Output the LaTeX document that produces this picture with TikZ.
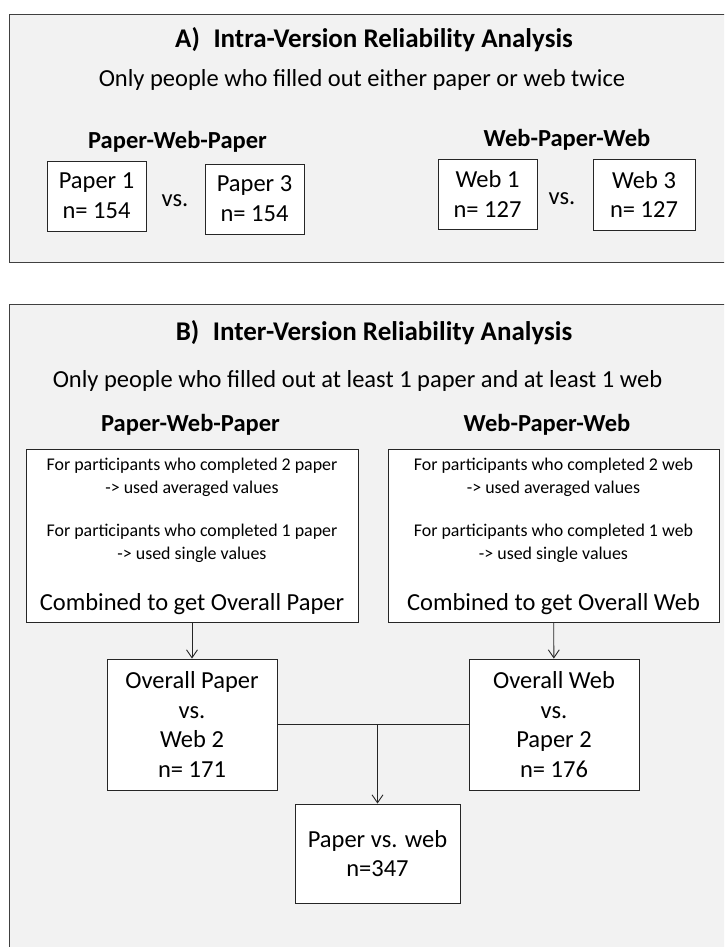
\documentclass[tikz,border=0pt]{standalone}
\usepackage{fontspec}
\setmainfont{Carlito}
\usetikzlibrary{arrows.meta, positioning}

\tikzset{
  panel/.style={draw=black!75, fill=black!5, line width=0.9pt},
  box/.style={draw=black!85, fill=white, line width=0.9pt, inner sep=0pt, align=center,
    font=\fontsize{24.5}{29.8}\selectfont},
  title/.style={inner sep=0pt, font=\fontsize{27}{32}\selectfont\bfseries},
  head/.style={inner sep=0pt, font=\fontsize{24.5}{29}\selectfont\bfseries},
  plain/.style={inner sep=0pt, align=center, font=\fontsize{24.5}{29.6}\selectfont},
  small/.style={inner sep=0pt, align=center, font=\fontsize{17.9}{23.3}\selectfont},
  link/.style={draw=black!85, line width=0.9pt}
}

\begin{document}
\begin{tikzpicture}[x=1pt, y=-1pt, >={Straight Barb[length=8pt,width=11pt]}]
  \useasboundingbox (0,0) rectangle (724,947);
  \clip (0,0) rectangle (724,947);

  % Panel A
  \draw[panel] (9,14) rectangle (740,262);
  \node[title] (titleA) at (374,40) {A)\hspace{0.5em}Intra-Version Reliability Analysis};
  \node[plain] (subA) at (362,80) {Only people who filled out either paper or web twice};
  \node[head] (pwpA) at (177.5,142) {Paper-Web-Paper};
  \node[head] (wpwA) at (567,140) {Web-Paper-Web};
  % intra boxes
  \node[box, minimum width=99, minimum height=70] (paperOne) at (96.5,196) {Paper 1\\n= 154};
  \node[box, minimum width=99, minimum height=70] (paperThree) at (254.5,199) {Paper 3\\n= 154};
  \node[plain] (vsPaper) at (175,201) {vs.};
  \node[box, minimum width=99, minimum height=70] (webOne) at (487.5,194) {Web 1\\n= 127};
  \node[box, minimum width=102, minimum height=71] (webThree) at (644,194.5) {Web 3\\n= 127};
  \node[plain] (vsWeb) at (562,199) {vs.};

  % Panel B
  \draw[panel] (9,304) rectangle (740,960);
  \node[title] (titleB) at (374,333) {B)\hspace{0.5em}Inter-Version Reliability Analysis};
  \node[plain] (subB) at (357.5,381) {Only people who filled out at least 1 paper and at least 1 web};
  \node[head] (pwpB) at (190.5,425) {Paper-Web-Paper};
  \node[head] (wpwB) at (547,425) {Web-Paper-Web};
  % combining boxes
  \node[box, minimum width=332, minimum height=173] (pwpBox) at (192,535.5) {};
  \node[small] (pwpTwo) at (192,477) {For participants who completed 2 paper\\-> used averaged values};
  \node[small] (pwpOne) at (192,543.5) {For participants who completed 1 paper\\-> used single values};
  \node[plain] (pwpComb) at (192,604) {Combined to get Overall Paper};
  \node[box, minimum width=331, minimum height=173] (wpwBox) at (553.5,535.5) {};
  \node[small] (wpwTwo) at (553.5,477) {For participants who completed 2 web\\-> used averaged values};
  \node[small] (wpwOne) at (553.5,543.5) {For participants who completed 1 web\\-> used single values};
  \node[plain] (wpwComb) at (553.5,604) {Combined to get Overall Web};
  % overall boxes
  \node[box, minimum width=170, minimum height=131] (ovPaper) at (192,724.5) {Overall Paper\\vs.\\Web 2\\n= 171};
  \node[box, minimum width=170, minimum height=131] (ovWeb) at (554,724.5) {Overall Web\\vs.\\Paper 2\\n= 176};
  \node[box, minimum width=165, minimum height=99] (pvw) at (377.5,853.5) {Paper vs. web\\n=347};

  % connectors
  \draw[link, ->] (pwpBox) -- (ovPaper);
  \draw[link, ->] (wpwBox) -- (ovWeb);
  \draw[link] (ovPaper) -- (ovWeb);
  \draw[link, ->] (ovPaper.east -| pvw.north) -- (pvw);
\end{tikzpicture}
\end{document}
